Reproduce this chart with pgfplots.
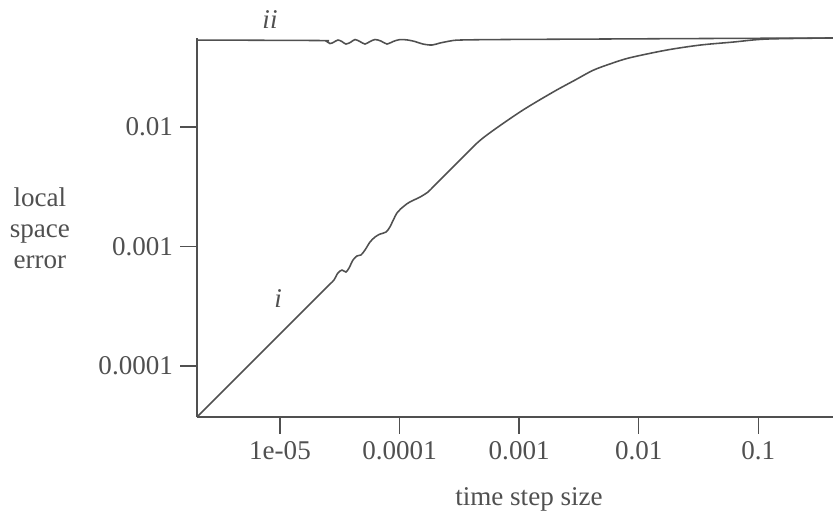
\documentclass[border=0pt]{standalone}
\usepackage{fontspec}
\setmainfont{Liberation Serif}
\usepackage{pgfplots}
\pgfplotsset{compat=1.18}
\definecolor{ink}{HTML}{505050}
\begin{document}
\begin{tikzpicture}
\begin{axis}[
  scale only axis, width=305.28pt, height=181.92pt,
  xmode=log, ymode=log,
  xmin=2.023e-6, xmax=0.421, ymin=3.742e-5, ymax=0.0556,
  axis x line*=bottom, axis y line*=left,
  axis line style={ink, line width=0.7pt},
  tick align=outside, major tick length=8pt,
  xminorticks=false, yminorticks=false,
  xtick={1e-5,1e-4,1e-3,1e-2,1e-1},
  xticklabels={1e-05,0.0001,0.001,0.01,0.1},
  ytick={1e-4,1e-3,1e-2},
  yticklabels={0.0001,0.001,0.01},
  every tick/.style={ink, line width=0.7pt},
  tick label style={font=\fontsize{13}{15}\selectfont, text=ink},
  xlabel={time step size},
  xlabel style={at={(rel axis cs:0.522,0)}, anchor=center, yshift=-39.8pt,
    font=\fontsize{13}{15}\selectfont, text=ink},
  ylabel={local\\space\\error},
  ylabel style={at={(rel axis cs:0,0.4987)}, rotate=-90, anchor=center,
    align=center, xshift=-75.4pt, font=\fontsize{13}{15}\selectfont, text=ink},
  clip=false,
]
% curve i
\addplot[ink, line width=0.75pt, smooth, tension=0.5] coordinates {
(2.02e-6,3.74e-5) (1.0e-5,1.85e-4) (2.08e-5,3.85e-4) (2.62e-5,4.85e-4)
(2.83e-5,5.25e-4) (3.05e-5,6.00e-4) (3.30e-5,6.35e-4) (3.56e-5,6.12e-4)
(3.78e-5,6.61e-4) (4.08e-5,7.71e-4) (4.41e-5,8.34e-4) (4.76e-5,8.50e-4)
(5.14e-5,9.35e-4) (5.66e-5,1.09e-3) (6.23e-5,1.20e-3) (6.86e-5,1.27e-3)
(7.69e-5,1.32e-3) (8.31e-5,1.46e-3) (9.51e-5,1.91e-3) (1.09e-4,2.18e-3)
(1.22e-4,2.36e-3) (1.48e-4,2.59e-3) (1.73e-4,2.86e-3) (1.94e-4,3.21e-3)
(2.18e-4,3.60e-3) (3.39e-4,5.61e-3) (4.98e-4,8.09e-3) (1.02e-3,1.34e-2)
(1.92e-3,1.96e-2) (2.93e-3,2.47e-2) (4.14e-3,2.98e-2) (5.74e-3,3.37e-2)
(8.43e-3,3.80e-2) (1.72e-2,4.41e-2) (3.25e-2,4.85e-2) (6.14e-2,5.14e-2)
(0.118,5.45e-2) (0.421,5.56e-2)};
% curve ii
\addplot[ink, line width=0.75pt, smooth, tension=0.5] coordinates {
(2.02e-6,0.05346) (2.16e-5,0.05295) (2.424e-5,0.05244) (2.618e-5,0.04997)
(2.828e-5,0.05144) (3.054e-5,0.05346) (3.299e-5,0.05194) (3.563e-5,0.04950)
(3.923e-5,0.05144) (4.237e-5,0.05398) (4.665e-5,0.05194) (5.137e-5,0.04950)
(5.656e-5,0.05194) (6.228e-5,0.05398) (6.992e-5,0.05244) (7.846e-5,0.04950)
(8.806e-5,0.05194) (1.008e-4,0.05398) (1.175e-4,0.05346) (1.345e-4,0.05194)
(1.569e-4,0.04950) (1.866e-4,0.04855) (2.177e-4,0.05046) (2.638e-4,0.05244)
(3.198e-4,0.05346) (6.910e-4,0.05398) (4.738e-3,0.05451) (3.248e-2,0.05504)
(0.421,0.0556)};
\node[text=ink, font=\fontsize{13}{15}\selectfont\itshape] at (rel axis cs:0.1277,0.3113) {i};
\node[text=ink, font=\fontsize{13}{15}\selectfont\itshape] at (rel axis cs:0.1148,1.0475) {ii};
\end{axis}
\pgfresetboundingbox
\path[use as bounding box] (-94.56pt,-47.52pt) rectangle (305.28pt,200.16pt);
\end{tikzpicture}
\end{document}
